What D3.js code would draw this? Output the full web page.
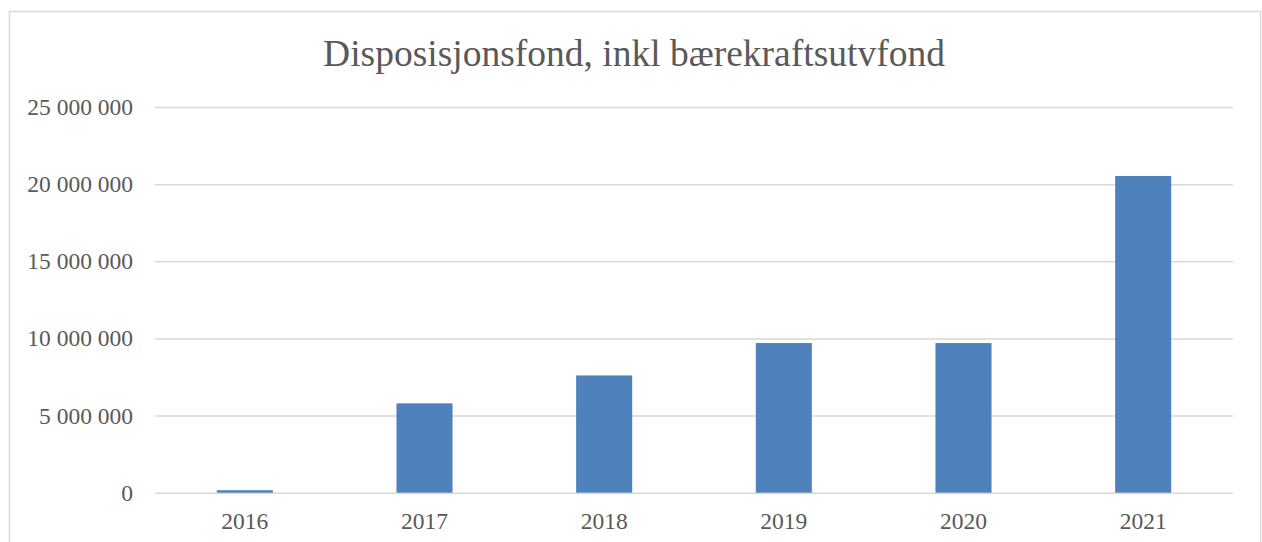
<!DOCTYPE html>
<html><head><meta charset="utf-8">
<script src="https://cdn.jsdelivr.net/npm/d3@7"></script>
<style>body{margin:0;background:#fff}svg{display:block}</style>
</head><body>
<svg id="c" width="1262" height="542"></svg>
<script>
const categories = ["2016","2017","2018","2019","2020","2021"];
const values = [160000, 5790000, 7600000, 9700000, 9700000, 20530000];
const yTicks = [0, 5000000, 10000000, 15000000, 20000000, 25000000];
const title = "Disposisjonsfond, inkl bærekraftsutvfond";

const svg = d3.select("#c");
const font = "'Liberation Serif','Times New Roman',serif";
const m = {left:155, right:1233, top:107, bottom:492.7};

svg.append("rect").attr("x",9.5).attr("y",11.5).attr("width",1251).attr("height",560)
  .attr("fill","#fff").attr("stroke","#d9d9d9").attr("stroke-width",1.5);

const x = d3.scaleBand().domain(categories).range([m.left,m.right]).paddingInner(0.688).paddingOuter(0.344);
const y = d3.scaleLinear().domain([0,25000000]).range([m.bottom,m.top]);
const fmt = v => d3.format(",")(v).replace(/,/g," ");

const yAxis = d3.axisLeft(y).tickValues(yTicks).tickSize(-(m.right-m.left)).tickPadding(22).tickFormat(fmt);
const gy = svg.append("g").attr("transform",`translate(${m.left},0)`).call(yAxis);
gy.select(".domain").remove();
gy.selectAll("line").attr("stroke","#d9d9d9").attr("stroke-width",1.5);
gy.selectAll("text").attr("fill","#595959").style("font-family",font).style("font-size","23.5px");

svg.append("g").selectAll("rect").data(values).join("rect")
  .attr("x",(d,i)=>x(categories[i])).attr("width",x.bandwidth())
  .attr("y",d=>y(d)).attr("height",d=>y(0)-y(d)).attr("fill","#4f81bd");

const xAxis = d3.axisBottom(x).tickSize(0).tickPadding(20);
const gx = svg.append("g").attr("transform",`translate(0,${m.bottom})`).call(xAxis);
gx.select(".domain").remove();
gx.selectAll("text").attr("fill","#595959").style("font-family",font).style("font-size","23.5px");

svg.append("text").attr("x",634).attr("y",66).attr("text-anchor","middle")
  .attr("fill","#595959").style("font-family",font).style("font-size","37.5px").text(title);
</script>
</body></html>
